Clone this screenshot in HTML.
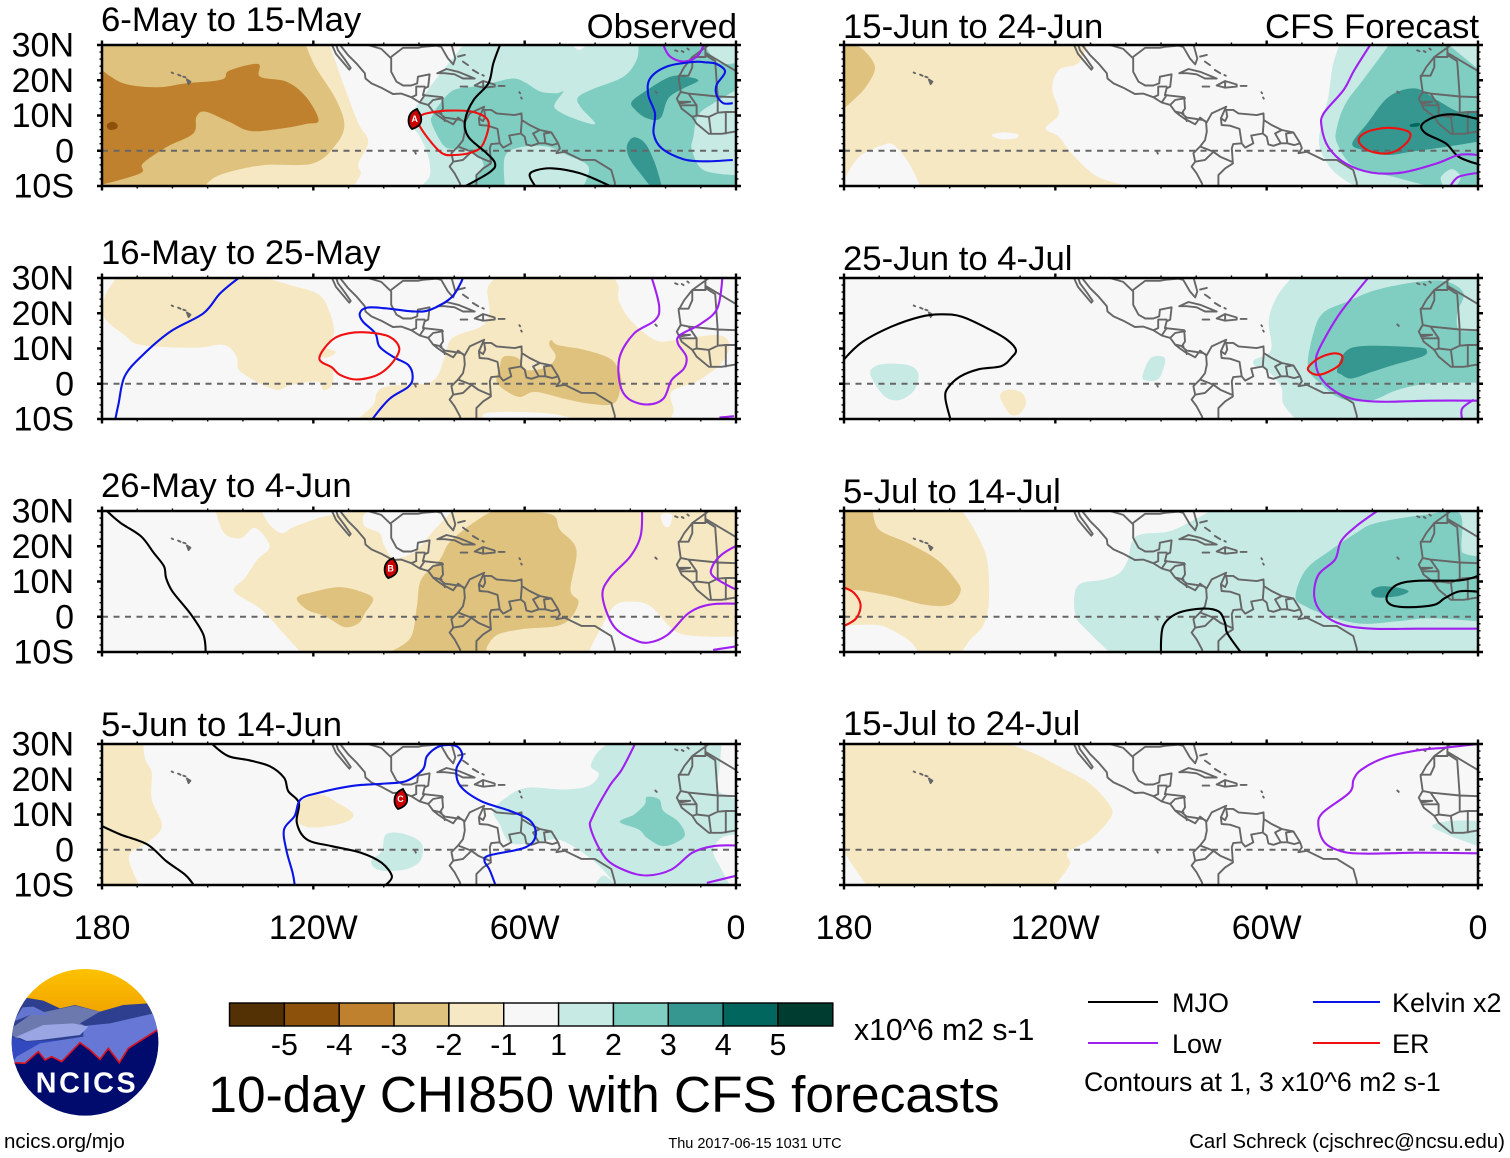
<!DOCTYPE html>
<html lang="en">
<head>
<meta charset="utf-8">
<title>10-day CHI850 with CFS forecasts</title>
<style>
html,body{margin:0;padding:0;background:#fff}
svg{display:block;font-family:"Liberation Sans",Arial,sans-serif}
</style>
</head>
<body>
<svg id="chart" xmlns="http://www.w3.org/2000/svg" width="1510" height="1158" viewBox="0 0 1510 1158">
<rect x="0" y="0" width="1510" height="1158" fill="#fff"/>
<defs><clipPath id="logo-clip"><circle cx="255" cy="247" r="220"/></clipPath>
<linearGradient id="sky" x1="0" y1="0" x2="0" y2="1"><stop offset="0" stop-color="#ffc300"/><stop offset="1" stop-color="#f0a400"/></linearGradient></defs>
<g id="panels"></g>
<g id="colorbar"></g>
<g transform="translate(0,960) scale(0.33333)">
 <g clip-path="url(#logo-clip)">
  <rect x="20" y="20" width="470" height="140" fill="url(#sky)"/>
  <polygon points="0,300 35,190 72,112 130,122 180,145 225,135 300,155 370,135 445,130 490,200 490,320 0,320" fill="#2f3f8f"/>
  <polygon points="20,215 90,165 225,137 300,155 240,190 270,205 150,225 50,235" fill="#6c79ae"/>
  <polygon points="68,142 100,140 150,165 90,165 40,185" fill="#6475d0"/>
  <polygon points="30,230 80,245 180,240 60,310 25,300" fill="#3249c0"/>
  <polygon points="250,198 330,190 462,160 490,200 490,320 30,320 50,290 120,250 250,230" fill="#6677d6"/>
  <polygon points="50,230 130,195 220,190 265,200 240,225 120,240 80,243" fill="#9aa5e4"/>
  <polygon points="20,308 42,308 75,310 115,275 135,300 155,290 185,305 240,248 270,270 300,298 325,265 358,308 385,265 475,208 500,200 500,480 20,480" fill="#000b6e"/>
  <polyline points="42,308 75,310 115,275 135,300 155,290 185,305 240,248 270,270 300,298 325,265 358,308 385,265 475,208" fill="none" stroke="#d8121e" stroke-width="5"/>
 </g>
 <text x="261" y="397" font-size="86" font-weight="bold" fill="#fff" text-anchor="middle" letter-spacing="8">NCICS</text>
</g>
<a><text x="4" y="1148" font-size="20.5" fill="#000">ncics.org/mjo</text></a>
<text x="604" y="1112" font-size="51.4" fill="#000" text-anchor="middle">10-day CHI850 with CFS forecasts</text>
<text x="854" y="1040" font-size="30.2" fill="#000">x10^6 m2 s-1</text>
<text x="755" y="1148" font-size="14.5" fill="#000" text-anchor="middle">Thu 2017-06-15 1031 UTC</text>
<text x="1505" y="1148" font-size="20.5" fill="#000" text-anchor="end">Carl Schreck (cjschrec@ncsu.edu)</text>
<text x="1084" y="1091" font-size="26.7" fill="#000">Contours at 1, 3 x10^6 m2 s-1</text>
<g id="legend"></g>
</svg>
<script>
/* ---------- chart data: lon in degrees west, lat in degrees north ---------- */
const panelTitles = ['6-May to 15-May','16-May to 25-May','26-May to 4-Jun','5-Jun to 14-Jun','15-Jun to 24-Jun','25-Jun to 4-Jul','5-Jul to 14-Jul','15-Jul to 24-Jul'];
const xTickLons = [180,120,60,0];
const xTickLabels = ['180','120W','60W','0'];
const yTickLats = [30,20,10,0,-10];
const yTickLabels = ['30N','20N','10N','0','10S'];
const colorbarTicks = [-5,-4,-3,-2,-1,1,2,3,4,5];
const colorbarColors = ['#543005','#8c510a','#bf812d','#dfc27d','#f6e8c3','#f7f7f7','#c7eae5','#80cdc1','#35978f','#01665e','#003c30'];

/* filled bands: [band, [lon,lat,...]] painted in order; band -4..4, 0 = neutral */
const fills1 = [
[-1,[180,30,115.3,30,111.2,18.2,107.2,7.8,104.4,2.6,107.2,-3.6,106.5,-6.4,108.5,-10,180,-10]],
[-2,[180,30,122.1,30,119.4,23.8,114,15.3,111.2,7.8,113.3,2.1,120.1,-3.6,134.4,-4.1,146.6,-6.9,150.7,-10,180,-10]],
[-3,[180,22.9,173.9,19.1,164.3,18,156.2,19.1,146,20.2,143.9,22.7,135.7,24.6,135.1,21,127.6,19.6,122.1,15.3,118.5,8.7,122.1,7.6,129,6.3,137.8,5.6,143.9,8.2,150.7,11.1,153.2,9.6,154.1,4.9,161.6,1.1,168.4,-3.6,169.1,-6.4,180,-9.6]],
[-4,[178.6,7.4,177,8.2,175.6,7.4,176,6.2,178,6]],
[1,[89.5,-10,86.9,-7,87.4,-1.5,89.7,4,92.5,9,86.9,18,79.8,27,77.5,30,0,30,0,-10]],
[2,[84,13.4,80.2,17.2,74.5,18.2,69.8,19.1,63.2,20.5,59.4,19.1,55.6,16.8,50.9,16.3,49,16.8,51.4,13.4,50.9,11.6,46.2,9.2,40,7.6,43.8,12,45,14.9,41.4,17.2,32,21,28.2,25.8,27.7,30,0,30,0,-10,76,-10,71.7,-4.5,74.5,-0.3,79.8,0.4,83.1,1.6,86.4,7.8,86.1,10.1]],
[1,[65.6,-10,65.6,-1.7,61.3,1,53.7,1.2,48,-1.2,41.9,-4.5,43.3,-10]],
[1,[0,17.2,6.4,13.5,10.7,10.1,12.1,4,12.5,0.2,9.2,-5.5,0,-6.9]],
[1,[9,30,5,25,0,24.9,0,30]],
[0,[46.6,30,44.5,28.6,42.5,30]],
[3,[29.6,13.9,25.3,17.2,18.7,21,14,21,10.7,19.9,14.9,17.7,19.2,14.9,21.5,9.2,25.3,9.2,28.6,11.6]],
[3,[31,1.2,29.1,3.8,25.8,2.1,23,-3.6,21.1,-10,24.4,-10,27.2,-6.4,30,-2.6]]
];
const fills2 = [
[-1,[175.9,30,133.6,30,126.5,28,118.3,25.2,115.3,20,114.1,14.3,116.5,10.5,113.6,9.1,115.9,7.5,118.9,7.2,114.7,3.9,114.7,-0.4,117.1,-1.8,118.9,0.6,126.5,-0.4,131.2,-1.6,140.6,3.4,141.8,7.7,145.3,11,153.6,10.2,168.9,11,173.6,13.8,178.9,18.1,179.7,21.9,178.9,25.6]],
[-1,[107.4,-10,103,-6,101.8,-2.3,98.3,-0.6,86.5,0.6,83,6.7,80.6,12.9,72.4,16.2,70,20,70.6,26.6,68.9,29.6,68.9,30,34.7,30,33.3,27.5,33.3,23.7,30,18.1,23,12.4,17.1,12.4,5.3,13.8,1.8,11,4.1,5.8,7.7,2.9,11.2,0.6,18.3,-2.3,17.7,-7.5,18.8,-10]],
[0,[71.8,-10,71.2,-8.4,64.1,-8,52.4,-8.5,45.7,-10]],
[-2,[52.4,12.4,50.6,11,43,9.6,35.9,7.2,33.3,3.9,32.6,0.1,34.7,-5.6,41.8,-5.6,48.9,-4.2,57.1,-2.3,61.8,-3.7,67.7,0.1,67.1,4.8,65.9,7.7,61.8,7.2,59.4,3.9,53.6,4.8,51.2,7.7,53,11]]
];
const fills3 = [
[-1,[147.7,30,145.3,23.7,140.6,22.3,136.5,25.2,132.4,20,135.9,16.2,139.4,11,142.4,7.2,134.7,2,127.7,-5.6,123.6,-10,41.8,-10,38.9,-4.2,34.7,2.9,30,4.3,24.2,2.9,17.1,-4.2,8.9,-5.6,0,-5.6,0,30,80.6,30,86.5,23.7,91.2,18.5,97.1,16.6,100,20.4,101.2,23.7,105.3,25.6,105.9,28.5,104.2,30,115.9,28.7,125.3,25.6,128.9,23.7,132.4,26.1,134.7,30]],
[0,[21.2,29,18.2,29,18.9,25.6,20.6,26.1]],
[-2,[98.5,-10,92.4,-6,90.6,3,89.4,10.5,84.1,16.2,80.6,21.9,70,29.5,64.1,29.9,52.4,29,50,24.7,45.3,19,47,7.7,44.7,4.3,47,-0.4,51.2,-2.7,60.6,-3.5,67.7,-5.1,70.6,-8.4,70.6,-10]],
[-2,[124.7,5.3,120.6,6.9,112.4,8.4,105.3,6.7,103,4.8,105.3,1.1,107.1,-1.8,111.2,-2.9,116.5,0.1,121.8,2]]
];
const fills4 = [
[-1,[180,30,168.3,30,167.7,25.6,165.9,21.9,165.9,14.3,163,6.7,167.1,2,172.4,-1.8,169.4,-10,180,-10]],
[-1,[124.1,13.3,118.3,15.7,112.4,12.9,108.6,10,111.2,7.7,119.4,6.3,123.6,7.2,125.1,9.6]],
[1,[68.9,11,65.3,14.8,59.4,17.6,48.9,17.1,41.8,18.1,38.9,21.4,41.2,23.7,39.4,27.5,36.5,30,4.1,30,4.7,22.8,5.3,17.1,1.8,15.2,0,14.3,0,4.3,4.1,3.4,6.5,-0.4,4.1,-5.6,1.8,-10,34.2,-10,38.3,-5.1,44.1,-0.4,50.6,2.9,57.1,2,64.1,2,67.1,7.2]],
[1,[40,-10,37.7,-7.3,34.7,-9.4,34.2,-10]],
[2,[33,7.9,28.9,10,25.9,12.9,25.3,15,21.8,14.3,20.6,11,16.5,8.1,14.5,4.3,17.1,2,21.2,1.1,25.3,3.4,27.7,5.8]],
[1,[103.6,-3.2,100.6,-0.4,99.4,4.3,94.7,4.6,89.4,2,89.4,-2.7,92.4,-5.1,97.1,-6,101.8,-5.6]]
];
const fills5 = [
[-1,[180,30,111,30,113.5,24.8,119,22.9,120.9,17.6,119,10.6,122.7,6.4,119,4,115.3,-0.8,108,-7.4,98.6,-10,158.4,-10,161.5,-3.6,165.8,1.6,168.9,1.6,175.7,-1.7,180,-8.3]],
[0,[138.1,4.4,135,5.2,130.7,4.7,131.3,3.5,135.6,3.3]],
[-2,[180,30,175.7,29.5,172,25.7,171.4,22.4,174.5,17.2,180,12]],
[1,[39.4,30,41.3,23.8,42.5,15.3,44.4,7.8,45,1.1,41.3,-5.5,35.1,-10,0,-10,0,30]],
[2,[25.3,30,27.7,26.7,32.7,20,37.6,13.4,40,6.8,40,2.1,35.1,-4.5,24,-7.4,14.2,-10,0,-10,0,23.4,1.8,24.7,8.3,30]],
[1,[10.5,-7.4,7.4,-5.2,4.9,-7.4,6.2,-10,9.9,-10]],
[3,[35.7,2.1,31.4,7.8,25.3,15.3,17.9,17.7,11.7,14.4,5.5,11.1,0,11.5,0,2.6,9.2,1.1,19.1,-0.3,25.9,-1.2,32.7,0.2]],
[4,[19.1,7.5,16.8,7.9,16.8,7,19.1,6.8]]
];
const fills6 = [
[1,[53,30,57.1,24.7,59.4,18.1,58.8,9.5,63.6,6.7,63,4.8,60,3.9,55.9,-0.9,55.3,-5.6,51.8,-10,0,-10,0,30]],
[2,[16.5,29,28.9,26.6,37.1,23.3,43.6,20.4,46.5,15.2,48.3,4.8,44.7,0.1,38.9,-4.2,30.6,-4.8,23,-1.8,13.6,0.1,0,0.3,0,15.3,5.3,15.2,5.9,20,4.1,25.6,8.9,29]],
[3,[40,3.9,37.7,9,32.4,10.7,17.1,10.3,14.5,9.3,15.9,7.7,24.1,5.3,30,3.4,35.9,1.5,38.9,2.7]],
[1,[172.4,3.9,168.9,5.6,161.8,5.3,158.9,2.9,160,-1.8,164.2,-4.6,168.3,-3.7,171.8,1]],
[1,[95.3,2,93,7.2,89.4,7.7,88.9,5.8,90.6,1.5,93.6,0.8]],
[-1,[135.7,-3.2,133,-1.6,129.4,-2.7,128.3,-5.6,130,-8.4,132.4,-8.9,134.1,-7]]
];
const fills7 = [
[-1,[180,30,146.5,30,143,24.7,139.4,16.2,138.9,3.9,140.6,-2.7,144.2,-6.5,146.5,-10,158.9,-10,161.8,-6.5,168.9,-2.7,175.3,-2.3,180,-2.6]],
[-2,[180,30,171.8,30,170,24.7,161.8,20.9,153.6,16.2,148.3,10.5,146.9,7.2,150,3.4,157.1,3.4,166.5,5.8,175.9,7.5,180,7.5]],
[1,[104.7,-10,111.2,-3.7,114.2,0.1,114.5,6.7,112.4,9.6,106.5,10.5,101.8,12.4,99.4,16.2,97.1,22.8,87.7,24.2,80.6,27.5,75.9,30,0,30,0,-10]],
[2,[51.8,5.8,48.9,13.3,42.4,18.5,34.7,23.7,28.9,26.6,14.7,29,5.3,29.4,4.7,20,4.1,18,0,17.1,0,-1.3,13.6,-0.4,23,-1.3,32.4,-2,40.6,-0.4,48.9,2.9]],
[3,[30.3,7.2,27.7,8.6,23,8.3,19.7,7.2,23,5.8,28.9,5.5]]
];
const fills8 = [
[-1,[178.9,30,133,30,125.3,27,118.3,23.3,111.2,19.5,106.5,15.2,103.8,11,105.3,7.7,110,3,116.5,-0.85,115.9,-4.2,120,-10,173.6,-10,177.7,-4.2,180,-0.4,180,28.5]],
[1,[13,6.8,7.7,8.2,0,8.2,0,1,4.1,2.5,8.9,4.4]]
];
const panelFills = [fills1,fills2,fills3,fills4,fills5,fills6,fills7,fills8];

/* contours: [series, closed, [lon,lat,...]] */
const lines1 = [
['low',0,[20.6,30,18.7,26.7,14.9,25.3,11.1,26.7,9.2,30]],
['kelvin',0,[0.9,13.5,3.6,13.5,5.5,15.8,5.5,18.7,3.1,22.4,5.5,24.6,8.8,25.1,12.1,25.2,19.6,23.9,24.4,20.5,24.9,15.8,23,10.6,23.4,4.9,21.1,0.7,14.9,-2.4,8.3,-3,0.9,-2.6]],
['er',1,[89.7,9.7,86.9,10.8,81.2,11.4,74.5,11,70.3,8.3,71.7,2.1,74.5,-0.3,79.8,-1.2,84,-0.3,89.7,6.8]],
['mjo',0,[67,30,68.9,24.8,70.3,19.1,74.5,14.4,76.9,8.7,76,4,70.8,-0.7,68.4,-3.6,69.8,-6,76.8,-10]],
['mjo',0,[57,-10,58.6,-6.9,56.6,-5.5,51.8,-5,44.3,-6.4,35.8,-10]]
];
const lines2 = [
['kelvin',0,[176.2,-10,175.3,-5.6,173.6,2,168.9,7.7,160.6,14.8,151.2,20,146.5,25.6,141.2,30]],
['kelvin',0,[77.5,30,80.6,24.7,86.5,21.1,91.2,20.5,99.4,21.4,104.7,21.6,106.8,20,105.9,17.6,102.4,14.3,101.2,10.5,97.1,7.5,93,5.3,91.8,2,93,-0.85,98.3,-4.2,103.2,-10]],
['er',1,[118.3,7.2,114.7,12.4,110,14.3,104.2,14.5,98.3,13.3,95.6,10,97.7,5.8,101.8,2.5,107.7,1.2,112.4,2.5,114.7,4.6]],
['low',0,[23.9,30,21.8,21.9,23,18,28.9,14.3,33,7.7,33,0.1,30.6,-4.2,25.3,-5.9,20.6,-4.2,18.3,1,14.8,4.3,14.1,7.7,16.5,11.4,15.9,13.8,10,17,5.3,21.4,3.9,30]],
['low',0,[4.7,-9.6,0.6,-9.2]]
];
const lines3 = [
['mjo',0,[178.6,30,174.7,26.6,168.9,22.8,165.3,18.1,162.4,14.3,161.8,11,160,7.2,154.7,0.6,151.2,-5.1,150.6,-10]],
['low',0,[26.7,30,27.1,22.8,30,17.1,35.9,11,37.9,5.8,34.7,-2.7,28.9,-6.5,24.7,-7.3,19.4,-5.1,13.5,1,7.7,3.4,0,3.7]],
['low',0,[0,20.1,4.1,17.6,6.7,14.3,6.5,11.5,0,7.7]],
['low',0,[6.5,-9.4,0,-8.4]]
];
const lines4 = [
['mjo',0,[148.7,30,144.2,26.6,138.3,25.4,132.4,23.7,128.3,20.4,127.1,16.6,124.1,13.3,124.7,7.7,121.8,2.9,114.7,1,106.5,-0.85,100.6,-3.7,97.7,-7.5,99.5,-10]],
['mjo',0,[180,6.7,174.7,4.3,167.1,1.5,161.8,-3.2,156.5,-7,154,-10]],
['kelvin',0,[125.3,-10,125.9,-6.5,127.7,0.1,128.3,5.8,125.3,9.6,123.6,14.3,118.3,16.2,109,18.1,99.4,18.8,93.6,19.5,88.9,22.8,87.7,26.6,84.1,29.4,79.4,29.4,77.7,26.6,79.4,22.8,78.3,18.1,72.4,13.8,64.1,11,58.3,8.1,56.9,3.9,60,0.6,70,-1.6,71.4,-3.2,70,-5.6,68.3,-10]],
['low',0,[28.7,30,32.4,22.8,35.9,18.1,40.6,9.6,41.2,5.8,37.1,-2.3,31.2,-6,25.3,-7.3,18.3,-5.6,12.4,-0.85,6.5,1,0,1.2]],
['low',0,[8.3,-9.4,0,-7.4]]
];
const lines5 = [
['mjo',0,[0,9,6.8,10.3,12.3,9.6,16,7.3,14.8,4.9,9.2,2.1,5.5,-1.7,0,-3.8]],
['er',1,[33.9,3,31.4,5.4,25.3,6.5,19.7,5.4,19.7,3,22.8,0.2,26.5,-0.8,31.4,0.2]],
['low',0,[30.6,30,35.1,22.9,38.2,17.2,43.8,10.6,44.4,6.8,42.5,1.1,37.6,-3.6,30.2,-6.2,21.6,-6.2,11.7,-3.6,5.5,-1.2,0,-1.2]],
['low',0,[7.8,-10,5.5,-7.4,0,-6.3]]
];
const lines6 = [
['mjo',0,[180,6.9,174.7,11.9,166.5,16.2,158.3,19,152.4,19.7,146.5,19,138.3,15.2,133.6,12.4,131.2,9.6,132.4,7.5,135.3,5,141.8,4.1,147.1,2,150.6,-1.3,151.2,-4.2,149.8,-10]],
['low',0,[31.2,30,38.9,20.4,43,13.8,45.9,7.7,45.3,2.9,41.8,-1.3,35.9,-4.2,27.7,-5.1,13.6,-4.8,0,-4.8]],
['low',0,[4.5,-10,4.5,-7,1.2,-4.5]],
['er',1,[48.3,4.4,45.3,7.2,41.2,8.6,38.6,7.9,39.4,5.3,43.6,2.9,46.5,2.7]]
];
const lines7 = [
['er',0,[180,8.3,177.1,6.7,175.3,3.4,176.5,-0.4,180,-2.6]],
['mjo',0,[90,-10,89.4,-2.7,85.3,1,78.3,2.3,73.6,1.5,71.8,-1.8,71.2,-4.6,67.4,-10]],
['mjo',0,[0,7.1,5.3,7.2,9.4,5.3,12.4,3.4,19.4,2.7,24.7,3.4,25.9,5.8,23,9.1,17.1,10.2,5.3,10.3,0,11.6]],
['low',0,[28.6,30,34.7,25.6,38.9,21.4,40.6,16.2,45.3,11.9,46.5,5.8,44.2,1,38.3,-2.3,30,-3.4,17.1,-3.4,0,-3.4]]
];
const lines8 = [
['low',0,[0,30,8.9,29,17.1,28.2,26.5,26.1,33,22.8,35.3,20,36.5,16.2,44.1,10.5,45.3,6.7,43.5,2,38.9,-0.4,32.4,-1.1,17.1,-0.85,0,-1]]
];
const panelLines = [lines1,lines2,lines3,lines4,lines5,lines6,lines7,lines8];

/* tropical storm symbols: panel index, letter, lon, lat */
const stormPanels = [0,2,3];
const stormLetters = ['A','B','C'];
const stormLons = [91.1,97.9,95.1];
const stormLats = [9,13.8,14.4];

/* map outlines, lon/lat polylines */
const coastLines = [
/* Baja California */
[114.7,30,113.6,27.5,111.2,24.7,109.8,23,109.4,23.5,111.2,26.1,113,28.5,113.5,30],
/* Pacific coast of the Americas */
[112.4,30,110.2,27.2,107.8,24.8,105.4,22,105.2,20.5,103.5,19.1,100.7,17.9,97.4,16.1,95,16.2,92.2,15.2,89.8,13.7,87.4,13,86,11.1,84.6,10,83.2,9,81.8,8.3,80.3,7.5,78.9,9.4,77.2,8.1,77,5.4,77.5,3,78.9,1.2,80.8,-0.7,80.3,-3.1,81.3,-4.5,79.9,-6.4,78.4,-9.2,78.2,-10],
/* Rio Grande and Gulf of Mexico */
[104.5,30,100.7,28.9,97.9,26.2],
[97.8,26.7,94.5,29.2,90.3,29.2,88.9,29.5,85,29.8,83.7,29.5,81.8,26.2,80.3,24.5,79.7,26.2,80.6,29.5,80.8,30],
/* Gulf and Caribbean coast through Brazil */
[97.9,26.2,97.9,22.4,96.4,19.6,94.5,18.5,92.2,18.5,90.5,19.1,90.3,21,87,21.7,87.4,18.2,88.4,17.7,88.9,15.8,83.4,15.2,83.2,12,84.1,10.6,82.7,9.4,79.9,9,78,8.7,77,8.1,75.6,10.6,71.5,12.5,73,9.2,71.8,8.4,71.2,9.7,71.5,11.6,69.5,11.6,68,10.6,62.8,10.1,60.9,10.6,60.8,8.7,58.6,7.3,55.7,5.9,52.4,5.2,50.5,2.1,50,0.7,51,-0.7,48.6,-0.3,43.9,-2.6,40.1,-2.6,35.4,-5.5,34.4,-9,34.4,-10],
/* Caribbean islands */
[84.8,22,82.2,23.2,78.9,22.4,74.2,20.5,77.5,20.5,79.9,21.7,82.7,22,84.8,22],
[74.2,18.5,71.8,19.8,68.5,18.8,68.5,18.2,71.8,17.9,74.2,18.5],[71.8,19.8,71.8,17.9],
[78.2,18.2,76.3,18.2],[67.4,18.4,65.7,18.4],
[78.9,26.7,77,27.2],[77.5,25.3,76.1,24.3],[74.7,22.9,73.2,22],[72,21.5,71.6,21.3],
[61.5,16.6,61.3,16.3],[61,15.1,60.8,14.8],
/* Pacific islands */
[160.2,22.2,159.8,22],[158.4,21.6,157.7,21.3],[156.9,21,156.3,20.8],[155.9,20.2,154.9,19.6,155.4,18.9,155.9,20.2],
[91.2,-0.1,90.9,-0.8],
/* Central America borders */
[90.8,18.2,90.8,15.8,92.2,15.2],[90.8,18.2,88.4,18.2],[89.8,13.7,88.4,15.8],[87.4,13,86,14.4,83.2,14.9],[86,11.1,83.6,10.6],[83,9.5,82.7,8.4],
/* South America borders */
[73,9.2,72.8,7.3,70.4,7.1,67.7,6.2,67.1,2.1,69.5,1.9,69.9,0.7,69.6,-3.6,71.8,-5,73.7,-6.9,73.7,-10],
[67.1,2.1,66.1,0.9,63.8,2.1,64.4,4.3,61.1,4.9,60.8,8.7],
[61.1,4.9,60,4,59.5,1.8,58.1,1.4,56,2.1,57.6,4.9,55.7,5.9],
[56,2.1,54.1,2.1,54.5,4.9,52.4,5.2],[54.1,2.1,52.2,1.6,50.5,2.1],
[78.9,1.2,75.1,-0.3,73.2,-1.7,69.9,-3.1],[80.3,-3.1,77.5,-2.6,75.1,-0.3],
/* Atlantic islands */
[17.3,28.5,16.6,28.2],[15.4,28.3,14.9,28],[13.8,29,13.4,28.7],[22.9,16.8,22.5,16.4],
/* Africa */
[7.7,30,12.4,26.6,14.7,23.7,16.3,20.9,15.7,16.7,16.8,14.8,15.4,11.9,12.4,9.6,11.2,7.7,7.7,4.8,4.1,4.8,0,5.5],
[12.4,26.6,8.7,26.6,8.7,30],[12.4,26.6,12.4,23.7,13.5,21.3,16.3,21.3],
[8.7,27.8,0,22.6],[8.7,27.2,5.9,25.4,5.2,15.4,13.5,16.2,15.7,16.7],
[13.5,16.2,11.2,12.9,15.4,12.9],[16,13.9,13,13.9,15.9,13.4],[11.2,12.9,11.2,10,7.7,9.6,7.1,4.8],[11.2,10,12.4,9.6],
[7.7,9.6,5.2,10.8,2.9,11,2.9,4.9],[5.2,15.4,0,15.2],[5.2,10.8,5.2,15.4],[0,11,2.9,11]
];

const legendNames = ['MJO','Kelvin x2','Low','ER'];
const legendKeys = ['mjo','kelvin','low','er'];

/* ---------- axis functions and drawing ---------- */
const NS = 'http://www.w3.org/2000/svg';
const PANEL_W = 634, PANEL_H = 141;
const colX = [102,844];
const rowY = [45,278,511,744];
const titleY = [31,264,497,736,38,270,503,735];
const bandColor = {'-4':'#8c510a','-3':'#bf812d','-2':'#dfc27d','-1':'#f6e8c3','0':'#f7f7f7','1':'#c7eae5','2':'#80cdc1','3':'#35978f','4':'#01665e'};
const seriesColor = {mjo:'#000000',kelvin:'#0a14e6',low:'#a020f0',er:'#f01010'};
const xAt = (px,lon) => px + (180-lon)*PANEL_W/180;
const yAt = (py,lat) => py + (30-lat)*PANEL_H/40;

function mk(tag, attrs, parent, text){
  const el = document.createElementNS(NS, tag);
  for (const k in attrs) el.setAttribute(k, attrs[k]);
  if (text !== undefined) el.textContent = text;
  parent.appendChild(el);
  return el;
}
function onFrame(lon,lat){ return lon<=0 || lon>=180 || lat>=30 || lat<=-10; }
function smoothPath(flat, closed, px, py){
  const pts = [];
  for (let i=0;i<flat.length;i+=2) pts.push({x:xAt(px,flat[i]),y:yAt(py,flat[i+1]),edge:onFrame(flat[i],flat[i+1])});
  const n = pts.length;
  const at = i => closed ? pts[(i+n)%n] : pts[Math.max(0,Math.min(n-1,i))];
  let d = 'M'+pts[0].x.toFixed(1)+' '+pts[0].y.toFixed(1);
  const segs = closed ? n : n-1;
  for (let i=0;i<segs;i++){
    const p0=at(i-1),p1=at(i),p2=at(i+1),p3=at(i+2);
    const c1x = p1.edge ? p1.x : p1.x+(p2.x-p0.x)/6, c1y = p1.edge ? p1.y : p1.y+(p2.y-p0.y)/6;
    const c2x = p2.edge ? p2.x : p2.x-(p3.x-p1.x)/6, c2y = p2.edge ? p2.y : p2.y-(p3.y-p1.y)/6;
    d += 'C'+c1x.toFixed(1)+' '+c1y.toFixed(1)+' '+c2x.toFixed(1)+' '+c2y.toFixed(1)+' '+p2.x.toFixed(1)+' '+p2.y.toFixed(1);
  }
  return closed ? d+'Z' : d;
}
function straightPath(flat, px, py){
  let d='';
  for (let i=0;i<flat.length;i+=2) d += (i?'L':'M')+xAt(px,flat[i]).toFixed(1)+' '+yAt(py,flat[i+1]).toFixed(1);
  return d;
}

const svg = document.getElementById('chart');
const defs = svg.querySelector('defs');
const panelsG = document.getElementById('panels');

panelTitles.forEach((title,idx)=>{
  const col = idx<4 ? 0 : 1;
  const px = colX[col], py = rowY[idx%4];
  const g = mk('g',{},panelsG);
  
  

  const clip = mk('clipPath',{id:'clip'+idx},defs);
  mk('rect',{x:px,y:py,width:PANEL_W,height:PANEL_H},clip);

  const bg = mk('rect',{x:px,y:py,width:PANEL_W,height:PANEL_H,fill:'#f7f7f7'},g);
  
  

  const body = mk('g',{'clip-path':'url(#clip'+idx+')'},g);
  panelFills[idx].forEach(f=>{
    const shape = mk('path',{d:smoothPath(f[1],true,px,py),fill:bandColor[f[0]]},body);
    
    
  });
  const coast = mk('path',{d:coastLines.map(l=>straightPath(l,px,py)).join(''),fill:'none',stroke:'#666','stroke-width':1.9,'stroke-linejoin':'round','stroke-linecap':'round'},body);
  
  
  const eq = mk('line',{x1:xAt(px,180),x2:xAt(px,0),y1:yAt(py,0),y2:yAt(py,0),stroke:'#666','stroke-width':2,'stroke-dasharray':'6 5.5'},body);
  
  
  panelLines[idx].forEach(l=>{
    const line = mk('path',{d:smoothPath(l[2],!!l[1],px,py),fill:'none',stroke:seriesColor[l[0]],'stroke-width':2.1},body);
    
    
  });
  stormPanels.forEach((sp,i)=>{
    if (sp!==idx) return;
    const sx = xAt(px,stormLons[i]), sy = yAt(py,stormLats[i]);
    const storm = mk('g',{},body);
    
    
    mk('path',{d:'M'+(sx+2)+' '+(sy-10)+'C'+(sx-9)+' '+(sy-6)+' '+(sx-8)+' '+(sy+6)+' '+(sx-3)+' '+(sy+10)+'C'+(sx+3)+' '+(sy+8)+' '+(sx+7)+' '+(sy+5)+' '+(sx+6)+' '+(sy-1)+'C'+(sx+6)+' '+(sy-5)+' '+(sx+3)+' '+(sy-7)+' '+(sx+2)+' '+(sy-10)+'Z',fill:'#cc0000',stroke:'#000','stroke-width':1.8},storm);
    mk('text',{x:sx-0.5,y:sy+3.2,'font-size':9,'font-weight':'bold',fill:'#fff','text-anchor':'middle'},storm,stormLetters[i]);
  });

  /* frame and ticks */
  const frame = mk('rect',{x:px,y:py,width:PANEL_W,height:PANEL_H,fill:'none',stroke:'#000','stroke-width':2.5},g);
  
  
  let minor='', major='';
  for (let lon=0;lon<=180;lon+=10){
    const x=xAt(px,lon);
    const seg='M'+x+' '+(py-(lon%60?2.5:4.5))+'V'+py+'M'+x+' '+(py+PANEL_H)+'V'+(py+PANEL_H+(lon%60?2.5:4.5));
    if (lon%60) minor+=seg; else major+=seg;
  }
  for (let lat=-10;lat<=30;lat+=2){
    const y=yAt(py,lat), big=lat%10===0, len=big?5:2.5;
    const seg='M'+(px-len)+' '+y+'H'+px+'M'+(px+PANEL_W)+' '+y+'H'+(px+PANEL_W+len);
    if (big) major+=seg; else minor+=seg;
  }
  const minorT = mk('path',{d:minor,stroke:'#000','stroke-width':1.4,fill:'none'},g);
  
  
  const majorT = mk('path',{d:major,stroke:'#000','stroke-width':2.4,fill:'none'},g);
  
  

  const t = mk('text',{x:px-1,y:titleY[idx],'font-size':34.7,fill:'#000'},g,title);
  
  

  if (col===0){
    yTickLats.forEach((lat,i)=>{
      const yl = mk('text',{x:74,y:yAt(py,lat)+11.5,'font-size':34,fill:'#000','text-anchor':'end'},g,yTickLabels[i]);
      
      
    });
  }
  if (idx%4===3){
    xTickLons.forEach((lon,i)=>{
      const xl = mk('text',{x:xAt(px,lon),y:py+PANEL_H+54,'font-size':34,fill:'#000','text-anchor':'middle'},g,xTickLabels[i]);
      
      
    });
  }
});

const obs = mk('text',{x:737,y:38,'font-size':34.7,fill:'#000','text-anchor':'end'},panelsG,'Observed');


const fc = mk('text',{x:1479,y:38,'font-size':34.7,fill:'#000','text-anchor':'end'},panelsG,'CFS Forecast');



/* colour bar */
const cb = document.getElementById('colorbar');
const cbX = 229.5, cbY = 1003, cbW = 54.85, cbH = 23;
colorbarColors.forEach((c,i)=>{
  const box = mk('rect',{x:cbX+i*cbW,y:cbY,width:cbW,height:cbH,fill:c,stroke:'#000','stroke-width':1.4},cb);
  
  
});
colorbarTicks.forEach((v,i)=>{
  const lab = mk('text',{x:cbX+(i+1)*cbW,y:1055,'font-size':30.4,fill:'#000','text-anchor':'middle'},cb,String(v));
  
  
});

/* legend */
const lg = document.getElementById('legend');
const legendX = [1088,1313], legendTextX = [1172,1392], legendY = [1002,1043];
legendNames.forEach((name,i)=>{
  const c = i%2, r = i>>1;
  const item = mk('g',{},lg);
  
  
  mk('line',{x1:legendX[c],x2:legendX[c]+(c?67:70),y1:legendY[r],y2:legendY[r],stroke:seriesColor[legendKeys[i]],'stroke-width':2.1},item);
  mk('text',{x:legendTextX[c],y:legendY[r]+10,'font-size':27,fill:'#000'},item,name);
});
</script>
</body>
</html>
